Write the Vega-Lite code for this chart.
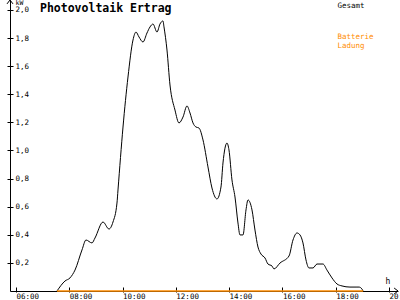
{
  "$schema": "https://vega.github.io/schema/vega-lite/v6.json",
  "width": 388,
  "height": 291,
  "autosize": {"type": "none"},
  "padding": {"left": 10, "top": 0, "right": 2, "bottom": 9},
  "background": "white",
  "config": {"view": {"stroke": null}, "font": "DejaVu Sans Mono"},
  "title": {
    "text": "Photovoltaik Ertrag",
    "anchor": "start",
    "frame": "group",
    "orient": "top",
    "offset": 0,
    "baseline": "top",
    "dx": 30,
    "dy": 16,
    "font": "DejaVu Sans Mono",
    "fontSize": 11.5,
    "fontWeight": "bold",
    "color": "black"
  },
  "data": {
    "values": [
      {"series": "Gesamt", "hour": 7.539, "kw": 0},
      {"series": "Gesamt", "hour": 7.839, "kw": 0.071},
      {"series": "Gesamt", "hour": 8.027, "kw": 0.093},
      {"series": "Gesamt", "hour": 8.215, "kw": 0.149},
      {"series": "Gesamt", "hour": 8.477, "kw": 0.292},
      {"series": "Gesamt", "hour": 8.628, "kw": 0.363},
      {"series": "Gesamt", "hour": 8.853, "kw": 0.342},
      {"series": "Gesamt", "hour": 8.965, "kw": 0.377},
      {"series": "Gesamt", "hour": 9.266, "kw": 0.491},
      {"series": "Gesamt", "hour": 9.491, "kw": 0.441},
      {"series": "Gesamt", "hour": 9.641, "kw": 0.491},
      {"series": "Gesamt", "hour": 9.791, "kw": 0.626},
      {"series": "Gesamt", "hour": 9.829, "kw": 0.719},
      {"series": "Gesamt", "hour": 10.017, "kw": 1.167},
      {"series": "Gesamt", "hour": 10.204, "kw": 1.523},
      {"series": "Gesamt", "hour": 10.392, "kw": 1.786},
      {"series": "Gesamt", "hour": 10.505, "kw": 1.843},
      {"series": "Gesamt", "hour": 10.617, "kw": 1.808},
      {"series": "Gesamt", "hour": 10.767, "kw": 1.772},
      {"series": "Gesamt", "hour": 10.917, "kw": 1.836},
      {"series": "Gesamt", "hour": 11.03, "kw": 1.879},
      {"series": "Gesamt", "hour": 11.143, "kw": 1.9},
      {"series": "Gesamt", "hour": 11.293, "kw": 1.843},
      {"series": "Gesamt", "hour": 11.405, "kw": 1.9},
      {"series": "Gesamt", "hour": 11.518, "kw": 1.922},
      {"series": "Gesamt", "hour": 11.556, "kw": 1.879},
      {"series": "Gesamt", "hour": 11.668, "kw": 1.715},
      {"series": "Gesamt", "hour": 11.781, "kw": 1.466},
      {"series": "Gesamt", "hour": 11.968, "kw": 1.288},
      {"series": "Gesamt", "hour": 12.119, "kw": 1.196},
      {"series": "Gesamt", "hour": 12.269, "kw": 1.238},
      {"series": "Gesamt", "hour": 12.419, "kw": 1.317},
      {"series": "Gesamt", "hour": 12.532, "kw": 1.267},
      {"series": "Gesamt", "hour": 12.644, "kw": 1.196},
      {"series": "Gesamt", "hour": 12.757, "kw": 1.167},
      {"series": "Gesamt", "hour": 12.869, "kw": 1.16},
      {"series": "Gesamt", "hour": 13.02, "kw": 1.075},
      {"series": "Gesamt", "hour": 13.207, "kw": 0.883},
      {"series": "Gesamt", "hour": 13.357, "kw": 0.733},
      {"series": "Gesamt", "hour": 13.545, "kw": 0.655},
      {"series": "Gesamt", "hour": 13.695, "kw": 0.74},
      {"series": "Gesamt", "hour": 13.77, "kw": 0.911},
      {"series": "Gesamt", "hour": 13.92, "kw": 1.053},
      {"series": "Gesamt", "hour": 13.995, "kw": 1.004},
      {"series": "Gesamt", "hour": 14.108, "kw": 0.79},
      {"series": "Gesamt", "hour": 14.221, "kw": 0.669},
      {"series": "Gesamt", "hour": 14.333, "kw": 0.484},
      {"series": "Gesamt", "hour": 14.408, "kw": 0.399},
      {"series": "Gesamt", "hour": 14.521, "kw": 0.399},
      {"series": "Gesamt", "hour": 14.634, "kw": 0.577},
      {"series": "Gesamt", "hour": 14.709, "kw": 0.648},
      {"series": "Gesamt", "hour": 14.859, "kw": 0.577},
      {"series": "Gesamt", "hour": 14.971, "kw": 0.434},
      {"series": "Gesamt", "hour": 15.084, "kw": 0.313},
      {"series": "Gesamt", "hour": 15.197, "kw": 0.263},
      {"series": "Gesamt", "hour": 15.347, "kw": 0.235},
      {"series": "Gesamt", "hour": 15.459, "kw": 0.192},
      {"series": "Gesamt", "hour": 15.61, "kw": 0.178},
      {"series": "Gesamt", "hour": 15.685, "kw": 0.157},
      {"series": "Gesamt", "hour": 15.91, "kw": 0.199},
      {"series": "Gesamt", "hour": 16.248, "kw": 0.249},
      {"series": "Gesamt", "hour": 16.398, "kw": 0.363},
      {"series": "Gesamt", "hour": 16.548, "kw": 0.413},
      {"series": "Gesamt", "hour": 16.661, "kw": 0.399},
      {"series": "Gesamt", "hour": 16.773, "kw": 0.342},
      {"series": "Gesamt", "hour": 16.886, "kw": 0.221},
      {"series": "Gesamt", "hour": 16.998, "kw": 0.164},
      {"series": "Gesamt", "hour": 17.149, "kw": 0.164},
      {"series": "Gesamt", "hour": 17.299, "kw": 0.192},
      {"series": "Gesamt", "hour": 17.524, "kw": 0.192},
      {"series": "Gesamt", "hour": 17.674, "kw": 0.149},
      {"series": "Gesamt", "hour": 17.862, "kw": 0.093},
      {"series": "Gesamt", "hour": 18.05, "kw": 0.05},
      {"series": "Gesamt", "hour": 18.238, "kw": 0.036},
      {"series": "Gesamt", "hour": 18.538, "kw": 0.028},
      {"series": "Gesamt", "hour": 18.8, "kw": 0.028},
      {"series": "Gesamt", "hour": 18.875, "kw": 0.028},
      {"series": "Gesamt", "hour": 18.988, "kw": 0.014},
      {"series": "Gesamt", "hour": 19.026, "kw": 0},
      {"series": "Batterie Ladung", "hour": 7.54, "kw": 0},
      {"series": "Batterie Ladung", "hour": 19.03, "kw": 0}
    ]
  },
  "layer": [
    {
      "transform": [{"filter": "datum.series == 'Gesamt'"}],
      "mark": {"type": "line", "strokeWidth": 1, "interpolate": "monotone"},
      "encoding": {
        "x": {
          "field": "hour", "type": "quantitative",
          "scale": {"domain": [5.775, 20.34], "nice": false, "zero": false},
          "axis": {
            "orient": "bottom",
            "values": [6, 8, 10, 12, 14, 16, 18, 20],
            "labelExpr": "(datum.value < 10 ? '0' : '') + datum.value + ':00'",
            "grid": false, "ticks": false, "tickSize": 0,
            "domain": true, "domainColor": "black", "domainWidth": 1,
            "labelAlign": "left", "labelDx": -4, "labelPadding": 1, "labelBaseline": "top",
            "labelFont": "DejaVu Sans Mono", "labelFontSize": 7.5, "labelColor": "black",
            "labelFlush": false, "labelOverlap": false,
            "title": "h", "titleX": 375, "titleY": -14, "titleAlign": "left", "titleBaseline": "top",
            "titleFont": "DejaVu Sans Mono", "titleFontSize": 8, "titleFontWeight": "normal", "titleColor": "#000000",
            "encode": {"title": {"update": {"fill": {"value": "#000000"}}}}
          }
        },
        "y": {
          "field": "kw", "type": "quantitative",
          "scale": {"domain": [0, 2.071], "nice": false},
          "axis": {
            "orient": "left",
            "values": [0.2, 0.4, 0.6, 0.8, 1.0, 1.2, 1.4, 1.6, 1.8, 2.0],
            "labelExpr": "replace(format(datum.value, '.1f'), '.', ',')",
            "grid": false, "ticks": false, "tickSize": 0,
            "domain": true, "domainColor": "black", "domainWidth": 1,
            "labelAlign": "left", "labelPadding": -5, "labelBaseline": "middle",
            "labelFont": "DejaVu Sans Mono", "labelFontSize": 7.5, "labelColor": "black",
            "labelFlush": false, "labelOverlap": false,
            "title": "kW", "titleAngle": 0, "titleX": 5, "titleY": -1, "titleAlign": "left", "titleBaseline": "top",
            "titleFont": "DejaVu Sans Mono", "titleFontSize": 6.5, "titleFontWeight": "normal", "titleColor": "#000000"
          }
        },
        "color": {
          "field": "series", "type": "nominal",
          "scale": {"domain": ["Gesamt", "Batterie Ladung"], "range": ["#000000", "#ff8c00"]},
          "legend": {
            "orient": "none", "legendX": 320, "legendY": -2,
            "title": null,
            "symbolSize": 0, "symbolStrokeWidth": 0, "symbolOpacity": 0,
            "labelOffset": 0,
            "labelFont": "DejaVu Sans Mono", "labelFontSize": 7.5,
            "labelBaseline": "top",
            "rowPadding": 19,
            "labelExpr": "datum.label == 'Batterie Ladung' ? ['Batterie', 'Ladung'] : datum.label",
            "encode": {"labels": {"update": {"fill": {"scale": "color", "field": "value"}}}}
          }
        }
      }
    },
    {
      "transform": [{"filter": "datum.series == 'Batterie Ladung'"}],
      "mark": {"type": "line", "strokeWidth": 1.5},
      "encoding": {
        "x": {
          "field": "hour", "type": "quantitative",
          "axis": {
            "orient": "bottom", "offset": -4,
            "values": [6, 8, 10, 12, 14, 16, 18, 20],
            "labels": false, "domain": false, "grid": false,
            "ticks": true, "tickSize": 5, "tickColor": "black", "tickWidth": 1, "title": null
          }
        },
        "y": {
          "field": "kw", "type": "quantitative",
          "axis": {
            "orient": "left", "offset": -3,
            "values": [0.2, 0.4, 0.6, 0.8, 1.0, 1.2, 1.4, 1.6, 1.8, 2.0],
            "labels": false, "domain": false, "grid": false,
            "ticks": true, "tickSize": 6, "tickColor": "black", "tickWidth": 1, "title": null
          }
        },
        "color": {"field": "series", "type": "nominal"}
      }
    },
    {
      "data": {"values": [{"marker": "y-arrow"}]},
      "mark": {"type": "point", "shape": "M-1,1.3L0,0L1,1.3", "filled": false, "size": 36, "stroke": "black", "strokeWidth": 1, "opacity": 1},
      "encoding": {
        "x": {"datum": 5.775, "type": "quantitative", "axis": null},
        "y": {"datum": 2.071, "type": "quantitative", "axis": null}
      }
    },
    {
      "data": {"values": [{"marker": "x-arrow"}]},
      "mark": {"type": "point", "shape": "M-1.3,-1L0,0L-1.3,1", "filled": false, "size": 36, "stroke": "black", "strokeWidth": 1, "opacity": 1},
      "encoding": {
        "x": {"datum": 20.34, "type": "quantitative", "axis": null},
        "y": {"datum": 0, "type": "quantitative", "axis": null}
      }
    }
  ],
  "resolve": {"axis": {"x": "independent", "y": "independent"}}
}
